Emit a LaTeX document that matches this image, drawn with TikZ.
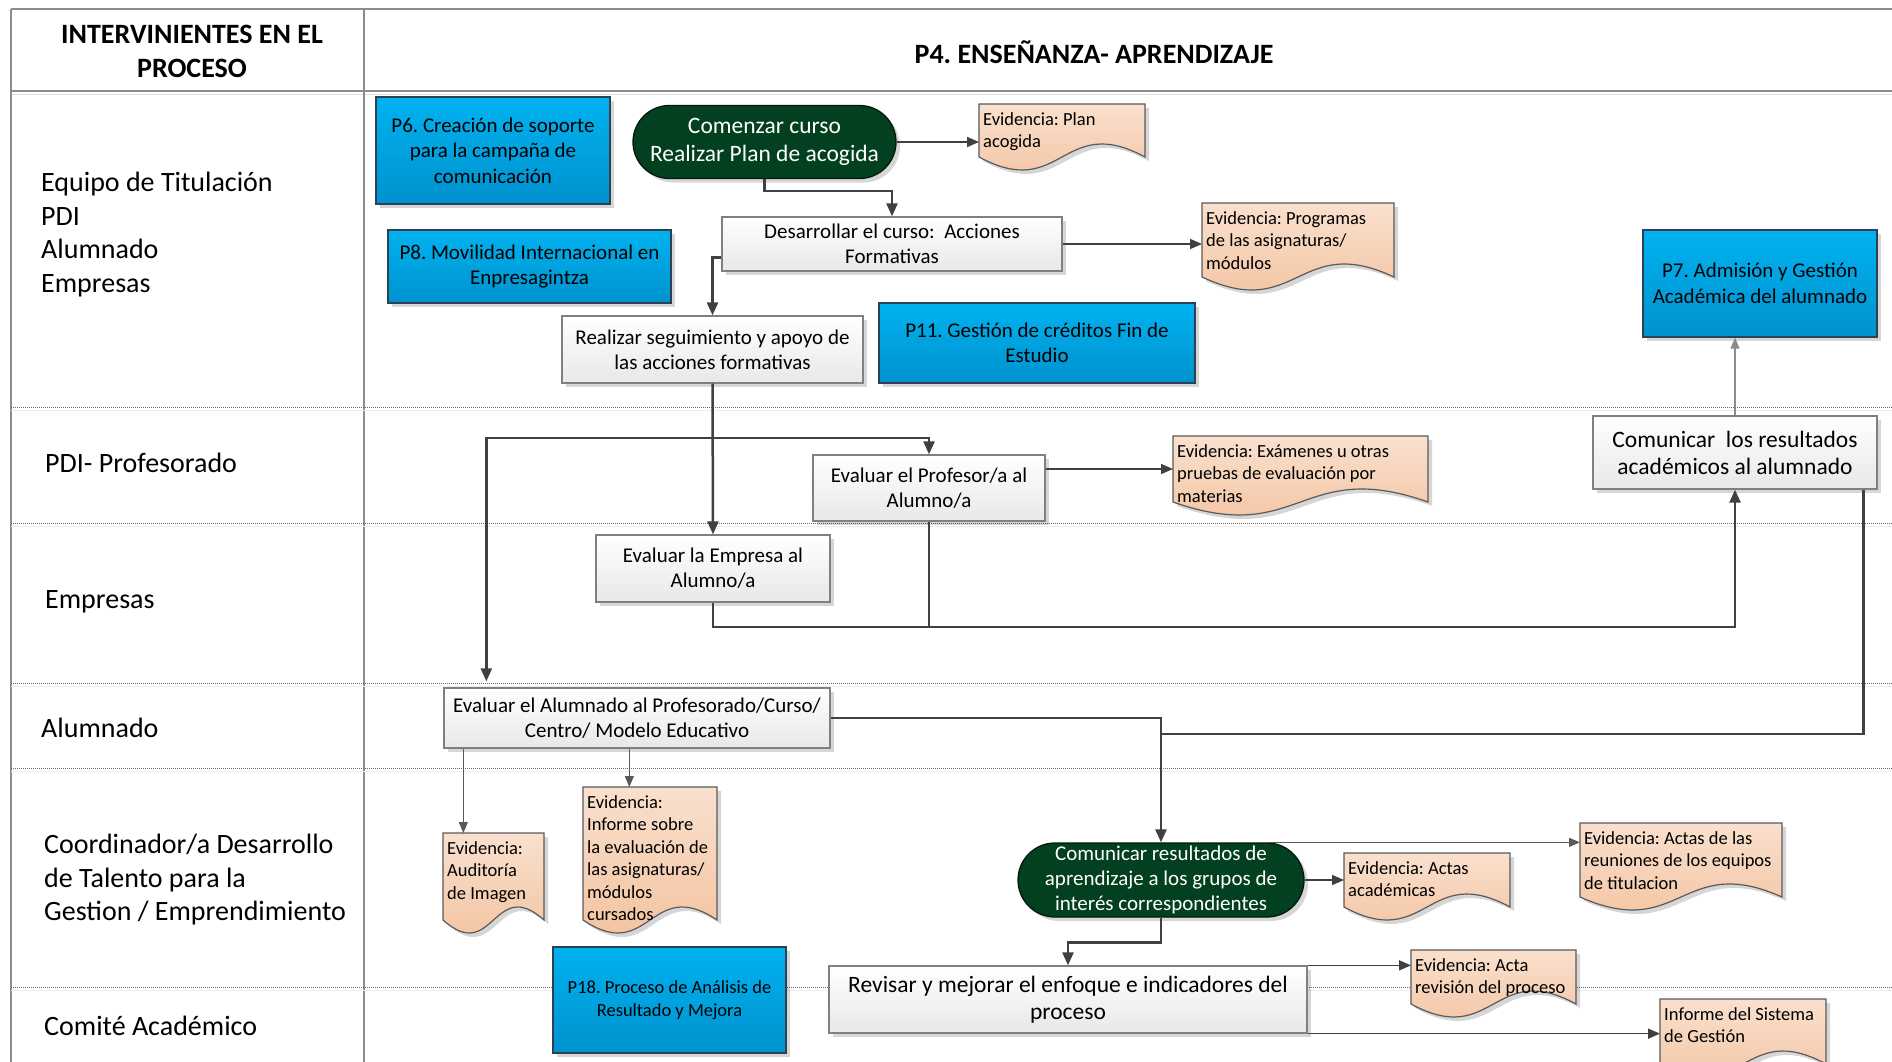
\documentclass[tikz,border=0pt]{standalone}
\usepackage{fontspec}
\setmainfont{Carlito}
\usetikzlibrary{arrows.meta,shapes.misc,shadows,calc}

\definecolor{bluetop}{RGB}{0,178,240}
\definecolor{bluebot}{RGB}{0,146,206}
\definecolor{blueedge}{RGB}{45,65,85}
\definecolor{termgreen}{RGB}{3,64,31}
\definecolor{doctop}{RGB}{249,224,206}
\definecolor{docbot}{RGB}{242,190,152}
\definecolor{docedge}{RGB}{90,90,90}
\definecolor{procbot}{RGB}{232,232,232}
\definecolor{procedge}{RGB}{128,128,128}
\definecolor{conncol}{RGB}{64,64,64}
\definecolor{laneline}{RGB}{105,105,105}
\definecolor{tableline}{RGB}{140,140,140}

\newcommand\evdoc[6]{%
  \path[docshape] (#2,#3) -- ({#2+#4},#3) -- ({#2+#4},{#3+#5-13})
    .. controls ({#2+0.5*#4},{#3+#5-58}) and ({#2+0.5*#4},{#3+#5+32}) .. (#2,{#3+#5-13}) -- cycle;
  \node[inner sep=0pt, minimum width=#4pt, minimum height=#5pt, anchor=north west] (#1) at (#2,#3) {};
  \node[doctext] (#1-t) at ({#2+4},{#3+8}) {#6};
}

\begin{document}
\frenchspacing
\begin{tikzpicture}[x=1pt,y=-1pt,
  shadowed/.style={drop shadow={shadow xshift=4pt,shadow yshift=-4pt,fill=black,opacity=0.16}},
  procbox/.style={shadowed, rectangle, draw=procedge, line width=1.3pt, top color=white, bottom color=procbot, align=center, inner sep=0pt, font=\fontsize{21}{25}\selectfont},
  bigproc/.style={procbox, font=\fontsize{23.5}{27}\selectfont},
  bluebox/.style={shadowed, rectangle, draw=blueedge, line width=1.3pt, top color=bluetop, bottom color=bluebot, align=center, inner sep=0pt, font=\fontsize{21}{25.5}\selectfont},
  termbox/.style={shadowed, rounded rectangle, draw=black!60!termgreen, line width=1.3pt, fill=termgreen, text=white, align=center, inner sep=0pt},
  docshape/.style={shadowed, draw=docedge, line width=1.2pt, top color=doctop, bottom color=docbot},
  doctext/.style={anchor=north west, inner sep=0pt, align=left, font=\fontsize{18.5}{22.5}\selectfont},
  lanetext/.style={inner sep=0pt, align=left, font=\fontsize{28}{33.5}\selectfont},
  hdrtext/.style={inner sep=0pt, align=center, font=\bfseries\fontsize{28}{34}\selectfont},
  conn/.style={draw=conncol, line width=2.5pt, -{Triangle[length=13pt,width=11pt]}},
  connplain/.style={draw=conncol, line width=2.5pt},
  evconn/.style={draw=conncol, line width=1.6pt, -{Triangle[length=12pt,width=10pt]}},
  thinconn/.style={draw=black!65, line width=1.1pt, -{Triangle[length=11pt,width=9pt]}},
  lanesep/.style={draw=laneline, line width=1pt, dash pattern=on 1pt off 1pt},
  tablesep/.style={draw=tableline, line width=1.6pt}
]
\useasboundingbox (0,0) rectangle (1892,1062);
\clip (0,0) rectangle (1892,1062);
\fill[white] (0,0) rectangle (1892,1062);

% ---- table frame ----
\draw[tablesep] (11,9) -- (1892,9);
\draw[tablesep] (11,91) -- (1892,91);
\draw[black!12, line width=1pt] (11,95) -- (1892,95);
\draw[tablesep] (11,9) -- (11,1062);
\draw[tablesep] (364,9) -- (364,1062);
\foreach \yy in {407,523,683,768,987} {
  \draw[lanesep] (11,\yy) -- (1892,\yy);
  \draw[black!8, line width=1pt] (11,\yy+3) -- (1892,\yy+3);
}

% ---- headers and lane labels ----
\node[hdrtext] (hdrL) at (192,51) {INTERVINIENTES EN EL\\PROCESO};
\node[hdrtext] (hdrR) at (1094,52) {P4. ENSEÑANZA- APRENDIZAJE};
\node[lanetext, anchor=north west] (lane1) at (41,172) {Equipo de Titulación\\PDI\\Alumnado\\Empresas};
\node[lanetext, anchor=base west] (lane2) at (45,472) {PDI- Profesorado};
\node[lanetext, anchor=base west] (lane3) at (45,608) {Empresas};
\node[lanetext, anchor=base west] (lane4) at (41,737) {Alumnado};
\node[lanetext, anchor=north west] (lane5) at (44,834) {Coordinador/a Desarrollo\\de Talento para la\\Gestion / Emprendimiento};
\node[lanetext, anchor=base west] (lane6) at (44,1035) {Comité Académico};

% ---- documents ----
\evdoc{evPlan}{979}{104}{166}{66}{Evidencia: Plan\\acogida}
\evdoc{evProg}{1202}{203}{192}{87}{Evidencia: Programas\\de las asignaturas/\\módulos}
\evdoc{evExam}{1173}{436}{255}{79}{Evidencia: Exámenes u otras\\pruebas de evaluación por\\materias}
\evdoc{evAud}{443}{833}{101}{100}{Evidencia:\\Auditoría\\de Imagen}
\evdoc{evInf}{583}{787}{134}{146}{Evidencia:\\Informe sobre\\la evaluación de\\las asignaturas/\\módulos\\cursados}
\evdoc{evActas}{1344}{853}{166}{67}{Evidencia: Actas\\académicas}
\evdoc{evReun}{1580}{823}{202}{87}{Evidencia: Actas de las\\reuniones de los equipos\\de titulacion}
\evdoc{evActa}{1411}{950}{165}{67}{Evidencia: Acta\\revisión del proceso}
\evdoc{evInfSis}{1660}{999}{166}{78}{Informe del Sistema\\de Gestión}

% ---- process nodes ----
\node[bluebox, minimum width=234pt, minimum height=107pt] (p6) at (493,150.5) {P6. Creación de soporte\\para la campaña de\\comunicación};
\node[bluebox, minimum width=283pt, minimum height=73pt] (p8) at (529.5,266.5) {P8. Movilidad Internacional en\\Enpresagintza};
\node[termbox, minimum width=263pt, minimum height=73pt, font=\fontsize{23.5}{27.5}\selectfont] (com) at (764.5,142) {Comenzar curso\\Realizar Plan de acogida};
\node[procbox, minimum width=340pt, minimum height=54pt] (des) at (892,244) {Desarrollar el curso:~~Acciones\\Formativas};
\node[procbox, minimum width=301pt, minimum height=67pt] (rea) at (712.5,349.5) {Realizar seguimiento y apoyo de\\las acciones formativas};
\node[bluebox, minimum width=316pt, minimum height=80pt] (p11) at (1037,343) {P11. Gestión de créditos Fin de\\Estudio};
\node[bluebox, minimum width=234pt, minimum height=107pt] (p7) at (1760,283.5) {P7. Admisión y Gestión\\Académica del alumnado};
\node[bigproc, minimum width=284pt, minimum height=73pt] (comRes) at (1735,452.5) {Comunicar~~los resultados\\académicos al alumnado};
\node[procbox, minimum width=232pt, minimum height=66pt] (eProf) at (929,488) {Evaluar el Profesor/a al\\Alumno/a};
\node[procbox, minimum width=234pt, minimum height=67pt] (eEmp) at (713,568.5) {Evaluar la Empresa al\\Alumno/a};
\node[procbox, minimum width=386pt, minimum height=60pt] (eAlum) at (637,718) {Evaluar el Alumnado al Profesorado/Curso/\\Centro/ Modelo Educativo};
\node[termbox, minimum width=286pt, minimum height=74pt, font=\fontsize{21}{25}\selectfont] (term2) at (1161,880) {Comunicar resultados de\\aprendizaje a los grupos de\\interés correspondientes};
\node[bigproc, minimum width=478pt, minimum height=67pt] (rev) at (1068,999.5) {Revisar y mejorar el enfoque e indicadores del\\proceso};
\node[bluebox, minimum width=233pt, minimum height=106pt, font=\fontsize{18.5}{22.5}\selectfont] (p18) at (669.5,1000) {P18. Proceso de Análisis de\\Resultado y Mejora};

% ---- connectors ----
\draw[evconn] (com.east) -- (com.east -| evPlan.west);
\draw[conn] (com.south) -- ++(0,12) -| (des.north);
\draw[evconn] (des.east) -- (des.east -| evProg.west);
\coordinate (dl) at ([yshift=14pt]des.south west);
\draw[conn] (dl) -| (rea.north);
\coordinate (jA) at (712.5,438);
\draw[conn] (rea.south) -- (eEmp.north);
\coordinate (ea0) at ([xshift=43pt]eAlum.north west);
\draw[conn, shorten >=6pt] (jA) -| (ea0);
\draw[conn] (jA) -| (eProf.north);
\coordinate (pe) at ([yshift=19pt]eProf.east);
\draw[evconn] (pe) -- (pe -| evExam.west);
\coordinate (rowB) at (0,627);
\draw[conn] (eEmp.south) |- (rowB -| comRes.south) -- (comRes.south);
\draw[connplain] (eProf.south) -- (eProf.south |- rowB);
\coordinate (cr) at ([xshift=-14pt]comRes.south east);
\coordinate (rowC) at (0,734);
\draw[connplain] (cr) |- (rowC -| term2.north);
\draw[conn] (eAlum.east) -| (term2.north);
\coordinate (ea1) at ([xshift=20pt]eAlum.south west);
\draw[thinconn] (ea1) -- (ea1 |- evAud.north);
\coordinate (ea2) at ([xshift=186pt]eAlum.south west);
\draw[thinconn] (ea2) -- (ea2 |- evInf.north);
\draw[evconn] (term2.east) -- (term2.east -| evActas.west);
\coordinate (t2) at ([xshift=106pt]term2.north);
\draw[thinconn] (t2) -- (t2 -| evReun.west);
\draw[conn] (term2.south) -- ++(0,25) -| (rev.north);
\draw[evconn] (rev.north east) -- (rev.north east -| evActa.west);
\draw[evconn] (rev.south east) -- (rev.south east -| evInfSis.west);
\draw[thinconn, draw=black!45] (comRes.north) -- (comRes.north |- p7.south);
\end{tikzpicture}
\end{document}
